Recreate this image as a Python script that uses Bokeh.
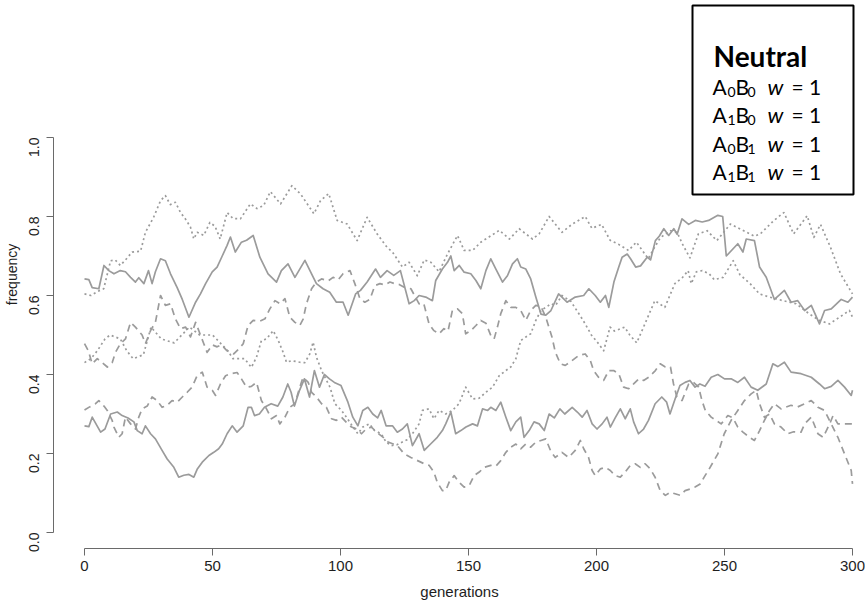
import math
from bokeh.plotting import figure
from bokeh.models import Range1d, FixedTicker, NumeralTickFormatter, Label, BoxAnnotation
from bokeh.embed import file_html
from bokeh.resources import INLINE

# ---------------- data (generation / frequency pairs) ----------------
solid_upper_gen = [0, 1.7, 3, 5.6, 7.6, 9.5, 11.5, 14, 16, 18, 19.9, 21.2, 23.2, 25, 26.4, 27.7,
                   29.7, 31.6, 33.6, 36.2, 38.2, 40.8, 43.4, 45.3, 47.3, 49.9, 51.8, 53.8, 55.7,
                   57, 58.9, 61.3, 63.3, 65.9, 68.5, 71.7, 75, 76.9, 79.5, 82.2, 86.1, 88.7, 90.6,
                   93.2, 95.8, 98.4, 101, 103, 105.9, 107.8, 110.4, 113.7, 115.6, 118.2, 120.8,
                   123.4, 126.8, 128.8, 130.7, 133.3, 135.9, 137.2, 139.8, 141.8, 143.1, 144.4,
                   146.4, 148.3, 150.9, 152.9, 154.8, 156.8, 158.7, 160.7, 163.3, 165.2, 167.2,
                   169.1, 170.4, 172.4, 174.3, 176.3, 178.3, 180.2, 182.2, 185.2, 188.5, 191.7,
                   195, 197, 199.5, 201.5, 203.5, 204.8, 206.8, 208.7, 210, 212, 213.3, 215.3,
                   217.2, 219.8, 221.1, 223, 224.5, 226.3, 228.2, 230.2, 231.5, 233.4, 236, 238.6,
                   241.3, 243.8, 247.4, 249.3, 250.7, 255.2, 257.2, 258.5, 261.7, 263.7, 266.3,
                   269.5, 273.4, 276, 278.6, 281.3, 283.9, 287.1, 289.1, 291.7, 295.6, 298.2, 300]
solid_upper_freq = [0.642, 0.64, 0.62, 0.617, 0.676, 0.663, 0.655, 0.663, 0.66, 0.646, 0.634,
                    0.645, 0.63, 0.663, 0.63, 0.66, 0.693, 0.688, 0.655, 0.62, 0.59, 0.545, 0.583,
                    0.604, 0.63, 0.66, 0.672, 0.70, 0.727, 0.748, 0.71, 0.735, 0.74, 0.752, 0.697,
                    0.655, 0.634, 0.663, 0.68, 0.646, 0.689, 0.655, 0.63, 0.617, 0.608, 0.583,
                    0.583, 0.55, 0.604, 0.613, 0.634, 0.667, 0.646, 0.663, 0.651, 0.663, 0.579,
                    0.587, 0.60, 0.596, 0.587, 0.638, 0.667, 0.684, 0.70, 0.663, 0.676, 0.659,
                    0.655, 0.638, 0.617, 0.663, 0.693, 0.667, 0.634, 0.65, 0.68, 0.693, 0.672,
                    0.667, 0.642, 0.596, 0.553, 0.55, 0.562, 0.604, 0.583, 0.596, 0.60, 0.617,
                    0.60, 0.583, 0.60, 0.57, 0.634, 0.672, 0.697, 0.705, 0.693, 0.672, 0.675,
                    0.697, 0.69, 0.739, 0.75, 0.769, 0.752, 0.769, 0.755, 0.794, 0.78, 0.79, 0.786,
                    0.79, 0.803, 0.80, 0.70, 0.731, 0.71, 0.743, 0.739, 0.672, 0.646, 0.59, 0.613,
                    0.583, 0.587, 0.562, 0.575, 0.528, 0.562, 0.566, 0.59, 0.583, 0.596]

solid_lower_gen = [0, 1.7, 3, 6.3, 8, 10.2, 12.8, 14.7, 17, 19.3, 20.6, 22.5, 23.8, 25.8, 27.7,
                   30.3, 32.3, 34.9, 36.8, 38.8, 40.8, 42.7, 44, 46, 48.6, 50.5, 52.4, 53.8, 55.7,
                   57.7, 59.6, 62, 63.9, 65.2, 66.4, 68.3, 70.3, 72.9, 75.5, 77.5, 79.4, 80.7, 82,
                   84, 85.9, 87.9, 89.8, 91.8, 93.7, 95.7, 97.6, 100.2, 102.9, 104.8, 106.8, 108.7,
                   110.7, 112.6, 114.5, 115.9, 117.8, 120.3, 122.2, 124.2, 126.1, 128.1, 130.7,
                   132.7, 135.2, 137.8, 139.8, 141.1, 143.1, 145, 147, 149, 151.6, 153.5, 155.5,
                   157.5, 158.7, 160.7, 162.6, 164.6, 166.5, 168.5, 170.4, 171.7, 173.7, 175.6,
                   177.6, 179.6, 181.5, 183.5, 185.7, 187.6, 190.5, 192.5, 194.4, 196.3, 198.3,
                   200.2, 202.2, 204.1, 205.4, 207.3, 209.3, 211.2, 213.2, 214.5, 216.4, 218.4,
                   220.3, 222.9, 225.5, 227.4, 228.7, 230.7, 232.6, 234.6, 236.5, 238.5, 240.4,
                   242.4, 244.8, 247.4, 250, 252.6, 255.2, 257.8, 260.4, 263, 266.3, 268.9, 270.8,
                   273.4, 276, 279.9, 283.9, 287.1, 289.1, 291.7, 294.3, 296.9, 299.5, 300]
solid_lower_freq = [0.27, 0.268, 0.292, 0.254, 0.262, 0.30, 0.305, 0.296, 0.29, 0.28, 0.258,
                    0.25, 0.27, 0.25, 0.237, 0.208, 0.186, 0.165, 0.14, 0.145, 0.147, 0.14, 0.16,
                    0.178, 0.195, 0.203, 0.212, 0.224, 0.25, 0.27, 0.254, 0.27, 0.317, 0.317,
                    0.296, 0.30, 0.317, 0.326, 0.32, 0.343, 0.376, 0.355, 0.32, 0.36, 0.389, 0.343,
                    0.41, 0.368, 0.40, 0.389, 0.38, 0.372, 0.33, 0.292, 0.27, 0.309, 0.317, 0.30,
                    0.29, 0.309, 0.27, 0.27, 0.254, 0.262, 0.275, 0.22, 0.25, 0.208, 0.224, 0.241,
                    0.258, 0.275, 0.305, 0.25, 0.258, 0.267, 0.275, 0.27, 0.313, 0.309, 0.317,
                    0.309, 0.33, 0.292, 0.258, 0.28, 0.292, 0.241, 0.258, 0.28, 0.275, 0.258, 0.30,
                    0.29, 0.313, 0.30, 0.317, 0.305, 0.292, 0.309, 0.275, 0.262, 0.275, 0.292,
                    0.267, 0.29, 0.313, 0.288, 0.313, 0.28, 0.25, 0.262, 0.284, 0.326, 0.343, 0.33,
                    0.30, 0.338, 0.372, 0.38, 0.385, 0.368, 0.376, 0.37, 0.393, 0.40, 0.389, 0.389,
                    0.38, 0.393, 0.368, 0.36, 0.376, 0.427, 0.42, 0.431, 0.406, 0.402, 0.393,
                    0.376, 0.364, 0.37, 0.385, 0.368, 0.347, 0.36]

dotted_upper_gen = [0, 2.5, 5, 7.5, 10.2, 12, 14, 16, 18.6, 21.9, 23.8, 27, 29.7, 31.6, 33.5,
                    35.5, 37.5, 39.4, 41.4, 42.7, 44, 46.6, 49, 51, 53, 55.7, 58, 60.9, 64.8, 67.4,
                    70, 72.6, 76.6, 81, 84.4, 89.6, 92.2, 95.4, 98.7, 102.6, 106.5, 110.4, 114.3,
                    118.2, 120.3, 124.2, 126.8, 130, 132.7, 135.3, 138.5, 141.8, 145.7, 148.3,
                    151.6, 154.8, 158, 162, 166, 169.8, 175, 177.6, 181.5, 186.5, 190.4, 195.6,
                    198.2, 202, 205.3, 208.5, 212.5, 215.6, 220.2, 222.5, 225, 229, 231.5, 233.6,
                    236.5, 239.8, 243.2, 247, 252.3, 257.5, 261.7, 264, 269.3, 273.2, 277, 282.3,
                    284.9, 287.5, 291.4, 295.3, 300]
dotted_upper_freq = [0.604, 0.60, 0.61, 0.617, 0.688, 0.69, 0.676, 0.69, 0.71, 0.712, 0.76,
                     0.798, 0.84, 0.853, 0.83, 0.836, 0.81, 0.794, 0.773, 0.743, 0.76, 0.752,
                     0.785, 0.775, 0.743, 0.81, 0.795, 0.794, 0.832, 0.82, 0.828, 0.863, 0.832,
                     0.878, 0.857, 0.807, 0.84, 0.858, 0.79, 0.781, 0.739, 0.798, 0.756, 0.722,
                     0.71, 0.672, 0.684, 0.65, 0.69, 0.684, 0.66, 0.705, 0.752, 0.714, 0.714,
                     0.735, 0.748, 0.765, 0.743, 0.769, 0.743, 0.756, 0.80, 0.76, 0.78, 0.80, 0.77,
                     0.78, 0.74, 0.73, 0.714, 0.735, 0.693, 0.72, 0.747, 0.764, 0.76, 0.73, 0.695,
                     0.756, 0.764, 0.739, 0.781, 0.764, 0.75, 0.756, 0.79, 0.81, 0.756, 0.802,
                     0.747, 0.78, 0.722, 0.655, 0.604]

dotted_lower_gen = [0, 2.5, 5, 8, 10, 14, 16.5, 19, 23, 26, 30, 35, 38, 41, 45, 50, 53, 56, 58,
                    62.5, 65.2, 67.2, 69.1, 71.1, 73.7, 75.7, 77.6, 78.9, 80.9, 84.1, 86.1, 88,
                    89.3, 90.6, 92.6, 93.9, 95.9, 97.8, 100.4, 102.3, 104.9, 106.8, 108.7, 111.3,
                    113.3, 115.9, 117.8, 119.8, 122, 126, 128.1, 130.7, 132, 134.6, 136.5, 138.5,
                    141.1, 143.7, 146.3, 148.9, 151.6, 154.2, 156.8, 159.4, 162, 164.6, 166.5,
                    168.5, 170.4, 172.4, 174.3, 176.3, 178.3, 180.2, 182.2, 184, 186.5, 190, 194,
                    195.6, 198, 200.8, 202.8, 205.3, 207, 211, 213, 215.7, 218.9, 222.8, 226.7,
                    230.6, 233.5, 235.8, 237, 239, 241.3, 244, 246, 249.5, 253.4, 256, 260, 263.7,
                    267.6, 272.8, 278, 283.2, 287.1, 291, 294.9, 298.8, 300]
dotted_lower_freq = [0.43, 0.44, 0.46, 0.49, 0.50, 0.49, 0.46, 0.44, 0.45, 0.52, 0.49, 0.48,
                     0.50, 0.52, 0.50, 0.50, 0.48, 0.46, 0.44, 0.44, 0.418, 0.444, 0.486, 0.49,
                     0.511, 0.486, 0.456, 0.431, 0.435, 0.431, 0.43, 0.452, 0.482, 0.444, 0.41,
                     0.393, 0.368, 0.326, 0.309, 0.292, 0.267, 0.25, 0.267, 0.275, 0.258, 0.25,
                     0.229, 0.22, 0.222, 0.235, 0.25, 0.275, 0.309, 0.313, 0.288, 0.309, 0.30,
                     0.309, 0.326, 0.368, 0.338, 0.34, 0.355, 0.368, 0.397, 0.41, 0.419, 0.44,
                     0.486, 0.495, 0.503, 0.537, 0.562, 0.57, 0.579, 0.575, 0.60, 0.585, 0.545,
                     0.528, 0.50, 0.478, 0.46, 0.52, 0.51, 0.52, 0.50, 0.48, 0.528, 0.587, 0.57,
                     0.63, 0.645, 0.663, 0.63, 0.66, 0.663, 0.655, 0.64, 0.646, 0.688, 0.653, 0.63,
                     0.604, 0.596, 0.587, 0.579, 0.553, 0.537, 0.528, 0.545, 0.562, 0.545]

dashed_upper_gen = [0, 1.5, 3, 5, 6.9, 8.9, 10.8, 12.1, 14, 16, 18, 19.9, 22.5, 23.8, 25.8, 27.7,
                    29.7, 31.6, 33.6, 35.5, 37.5, 39.5, 41.4, 43.4, 44.7, 46.6, 47.9, 49.9, 51.8,
                    53.5, 55.7, 58.3, 60.3, 62, 63.9, 65.9, 68.5, 70.5, 72.4, 74.4, 76.4, 78.3,
                    80.2, 82.2, 84.1, 85.4, 86.7, 88.7, 90.6, 92.6, 95.2, 97.1, 99.1, 101, 103.7,
                    105.6, 107.6, 109.5, 111.5, 113.4, 115.4, 117.4, 119.3, 121.2, 122.9, 124.9,
                    127.5, 130.7, 132.5, 134.6, 136.5, 138.5, 140.4, 142, 143.7, 145.7, 147.6,
                    148.9, 150.9, 152.9, 154.8, 156.8, 158.7, 160, 161.3, 162.6, 164.6, 166.5,
                    168.5, 170.4, 172.4, 174.3, 176.3, 178.3, 180.2, 182.6, 183.9, 185.9, 187.8,
                    190.4, 193, 195.6, 197.6, 198.9, 200.8, 202.8, 204.8, 206.7, 208.7, 210.6,
                    212.6, 214.5, 216.5, 218.4, 220.4, 223, 224.9, 226.9, 228.9, 230.1, 231.4,
                    233.4, 236, 237.9, 239.9, 241.2, 242.5, 244.8, 248.7, 251.3, 253.3, 255.2,
                    257.2, 259.8, 261.7, 263.7, 265.6, 267.6, 269.5, 272.1, 276, 278.6, 281.3,
                    283.9, 286.5, 289.1, 291.7, 294.3, 296.9, 299.5, 300]
dashed_upper_freq = [0.478, 0.46, 0.427, 0.44, 0.43, 0.419, 0.43, 0.456, 0.478, 0.49, 0.532,
                     0.52, 0.50, 0.478, 0.511, 0.532, 0.60, 0.575, 0.579, 0.541, 0.516, 0.52,
                     0.495, 0.532, 0.51, 0.478, 0.456, 0.475, 0.47, 0.475, 0.46, 0.452, 0.465,
                     0.478, 0.524, 0.537, 0.535, 0.541, 0.566, 0.587, 0.579, 0.592, 0.545, 0.532,
                     0.524, 0.54, 0.579, 0.617, 0.634, 0.642, 0.637, 0.646, 0.64, 0.655, 0.663,
                     0.63, 0.592, 0.583, 0.59, 0.625, 0.63, 0.627, 0.634, 0.63, 0.628, 0.621,
                     0.617, 0.579, 0.58, 0.528, 0.511, 0.503, 0.516, 0.51, 0.562, 0.566, 0.554,
                     0.503, 0.511, 0.524, 0.537, 0.53, 0.499, 0.49, 0.52, 0.554, 0.587, 0.57,
                     0.57, 0.562, 0.537, 0.562, 0.575, 0.572, 0.545, 0.495, 0.457, 0.427, 0.423,
                     0.435, 0.448, 0.452, 0.435, 0.41, 0.393, 0.385, 0.41, 0.41, 0.402, 0.368,
                     0.364, 0.376, 0.389, 0.385, 0.393, 0.41, 0.427, 0.419, 0.419, 0.376, 0.343,
                     0.334, 0.376, 0.38, 0.368, 0.334, 0.309, 0.292, 0.275, 0.296, 0.29, 0.267,
                     0.254, 0.241, 0.233, 0.258, 0.284, 0.309, 0.326, 0.313, 0.322, 0.318, 0.326,
                     0.334, 0.317, 0.309, 0.275, 0.241, 0.199, 0.157, 0.123]

dashed_lower_gen = [0, 2, 4.3, 5.6, 7.6, 8.9, 10.8, 11.5, 13.4, 14.7, 16, 18, 19.9, 21.2, 22.5,
                    24.5, 26.4, 28.4, 30.3, 32.3, 34.2, 36.2, 38.2, 40.1, 42, 44, 46, 47.9, 49.9,
                    51.2, 53.1, 55.1, 57.1, 59.6, 61.3, 63.3, 65.2, 67.2, 69.1, 71.1, 73, 75, 76.3,
                    78.3, 80.2, 82.2, 84.1, 85.4, 87.4, 88.7, 90.6, 92.6, 94.5, 96.5, 98.4, 100.4,
                    102.3, 104.3, 106.3, 108.2, 110, 112.1, 114.1, 116.7, 118.6, 120.6, 122.2,
                    124.9, 127.5, 130.1, 132.7, 134.6, 136.5, 137.8, 139.8, 141.1, 142.4, 144.4,
                    146.4, 148.3, 150.3, 152.2, 154.2, 156.1, 158.7, 160.7, 162.6, 164.6, 166.5,
                    168.5, 170.4, 172.4, 174.3, 176.3, 178.3, 180.2, 182.2, 183.9, 186.5, 189.1,
                    191.7, 193.7, 195, 196.9, 198.3, 199.5, 201.5, 203.5, 205.4, 207.3, 209.3,
                    211.2, 213.2, 215.1, 217.1, 219, 221, 222.9, 224.9, 226.9, 228.8, 230.7, 232.7,
                    234.6, 236.6, 238.5, 240.5, 242.4, 243.5, 247.4, 249.9, 252.6, 255.2, 257.8,
                    260.4, 262.4, 263.7, 265.6, 267.6, 269.5, 272.1, 274.7, 277, 279.9, 281.3,
                    283.9, 286.5, 288.5, 291.1, 292.4, 294.3, 296.9, 300]
dashed_lower_freq = [0.31, 0.318, 0.326, 0.334, 0.32, 0.309, 0.284, 0.267, 0.241, 0.25, 0.292,
                     0.275, 0.262, 0.292, 0.313, 0.32, 0.343, 0.334, 0.317, 0.322, 0.334, 0.33,
                     0.343, 0.355, 0.368, 0.397, 0.406, 0.368, 0.36, 0.347, 0.376, 0.397, 0.402,
                     0.405, 0.389, 0.368, 0.37, 0.38, 0.334, 0.313, 0.288, 0.296, 0.275, 0.292,
                     0.317, 0.326, 0.368, 0.393, 0.38, 0.355, 0.343, 0.326, 0.317, 0.288, 0.284,
                     0.292, 0.279, 0.267, 0.262, 0.25, 0.262, 0.267, 0.254, 0.241, 0.229, 0.224,
                     0.22, 0.199, 0.19, 0.182, 0.174, 0.17, 0.153, 0.127, 0.106, 0.106, 0.127,
                     0.144, 0.127, 0.115, 0.119, 0.144, 0.153, 0.165, 0.17, 0.168, 0.182, 0.203,
                     0.216, 0.224, 0.212, 0.224, 0.216, 0.229, 0.233, 0.237, 0.205, 0.19, 0.203,
                     0.19, 0.208, 0.233, 0.212, 0.19, 0.157, 0.144, 0.161, 0.165, 0.157, 0.144,
                     0.14, 0.153, 0.17, 0.174, 0.165, 0.174, 0.161, 0.14, 0.106, 0.094, 0.102,
                     0.098, 0.094, 0.106, 0.11, 0.115, 0.123, 0.144, 0.155, 0.199, 0.25, 0.284,
                     0.309, 0.334, 0.351, 0.36, 0.326, 0.292, 0.30, 0.275, 0.267, 0.25, 0.255,
                     0.254, 0.275, 0.292, 0.25, 0.241, 0.275, 0.296, 0.275, 0.275, 0.275]

x_ticks = [0, 50, 100, 150, 200, 250, 300]
y_ticks = [0.0, 0.2, 0.4, 0.6, 0.8, 1.0]

legend_title = "Neutral"
legend_a_sub = ["0", "1", "0", "1"]
legend_b_sub = ["0", "0", "1", "1"]
legend_w = ["1", "1", "1", "1"]

# ---------------- layout ----------------
W, H = 865, 606
LEFT, BOTTOM, TOP = 53, 58, 0
FRAME_H = H - BOTTOM - TOP

p = figure(width=W, height=H, output_backend="svg", toolbar_location=None,
           x_range=Range1d(-12.11, 305.08), y_range=Range1d(-0.0405, 1.3468),
           min_border_left=LEFT, min_border_right=0, min_border_top=TOP,
           min_border_bottom=BOTTOM)
p.outline_line_color = None
p.background_fill_color = "white"
p.border_fill_color = "white"
p.xgrid.visible = False
p.ygrid.visible = False

AX = "#6a6a6a"
TXT = "#1e1e1e"
FONT = "Liberation Sans"

xa = p.xaxis[0]
xa.bounds = (0, 300)
xa.ticker = FixedTicker(ticks=x_ticks)
xa.axis_line_color = AX
xa.major_tick_line_color = AX
xa.minor_tick_line_color = None
xa.major_tick_in = 0
xa.major_tick_out = 7
xa.major_label_standoff = 5
xa.major_label_text_font = FONT
xa.major_label_text_font_size = "15px"
xa.major_label_text_color = TXT
xa.axis_label = "generations"
xa.axis_label_text_font = FONT
xa.axis_label_text_font_size = "15px"
xa.axis_label_text_font_style = "normal"
xa.axis_label_text_color = TXT
xa.axis_label_standoff = 9

ya = p.yaxis[0]
ya.bounds = (0, 1)
ya.ticker = FixedTicker(ticks=y_ticks)
ya.formatter = NumeralTickFormatter(format="0.0")
ya.axis_line_color = AX
ya.major_tick_line_color = AX
ya.minor_tick_line_color = None
ya.major_tick_in = 0
ya.major_tick_out = 7
ya.major_label_orientation = math.pi / 2
ya.major_label_standoff = 12
ya.major_label_text_font = FONT
ya.major_label_text_font_size = "14px"
ya.major_label_text_color = TXT
ya.axis_label = "frequency"
ya.axis_label_text_font = FONT
ya.axis_label_text_font_size = "14px"
ya.axis_label_text_font_style = "normal"
ya.axis_label_text_color = TXT
ya.axis_label_standoff = 2

LINE = "#9b9b9b"
LW = 1.7
for g, f in ((dotted_upper_gen, dotted_upper_freq), (dotted_lower_gen, dotted_lower_freq)):
    p.line(g, f, line_color=LINE, line_width=LW, line_dash="2 3", line_join="round")
for g, f in ((dashed_upper_gen, dashed_upper_freq), (dashed_lower_gen, dashed_lower_freq)):
    p.line(g, f, line_color=LINE, line_width=LW, line_dash="7 5", line_join="round")
for g, f in ((solid_upper_gen, solid_upper_freq), (solid_lower_gen, solid_lower_freq)):
    p.line(g, f, line_color=LINE, line_width=LW, line_join="round")

# ---------------- legend box (canvas pixel positions -> frame screen units) ----------------
def sx(cx):
    return cx - LEFT

def sy(cy):
    return FRAME_H - (cy - TOP)

p.add_layout(BoxAnnotation(left=sx(692), right=sx(853), top=sy(5), bottom=sy(194),
                           left_units="screen", right_units="screen",
                           top_units="screen", bottom_units="screen",
                           fill_color="white", fill_alpha=1.0,
                           line_color="black", line_width=2, line_alpha=1.0))

LFONT = "Lato"

def lab(text, cx, cy, size, style="normal"):
    p.add_layout(Label(x=sx(cx), y=sy(cy), x_units="screen", y_units="screen",
                       text=text, text_font=LFONT, text_font_size=size,
                       text_font_style=style, text_color="black",
                       text_align="left", text_baseline="alphabetic"))

lab(legend_title, 713, 55, "28px", "bold")
baselines = [86, 114, 143, 171]
for a, b, w, base in zip(legend_a_sub, legend_b_sub, legend_w, baselines):
    lab("A", 712, base, "21px")
    lab(a, 727, base + 5, "14px")
    lab("B", 735, base, "21px")
    lab(b, 747, base + 5, "14px")
    lab("w", 767, base, "22px", "italic")
    lab("= " + w, 791, base, "21px")

open("out.html", "w").write(file_html(p, INLINE))
